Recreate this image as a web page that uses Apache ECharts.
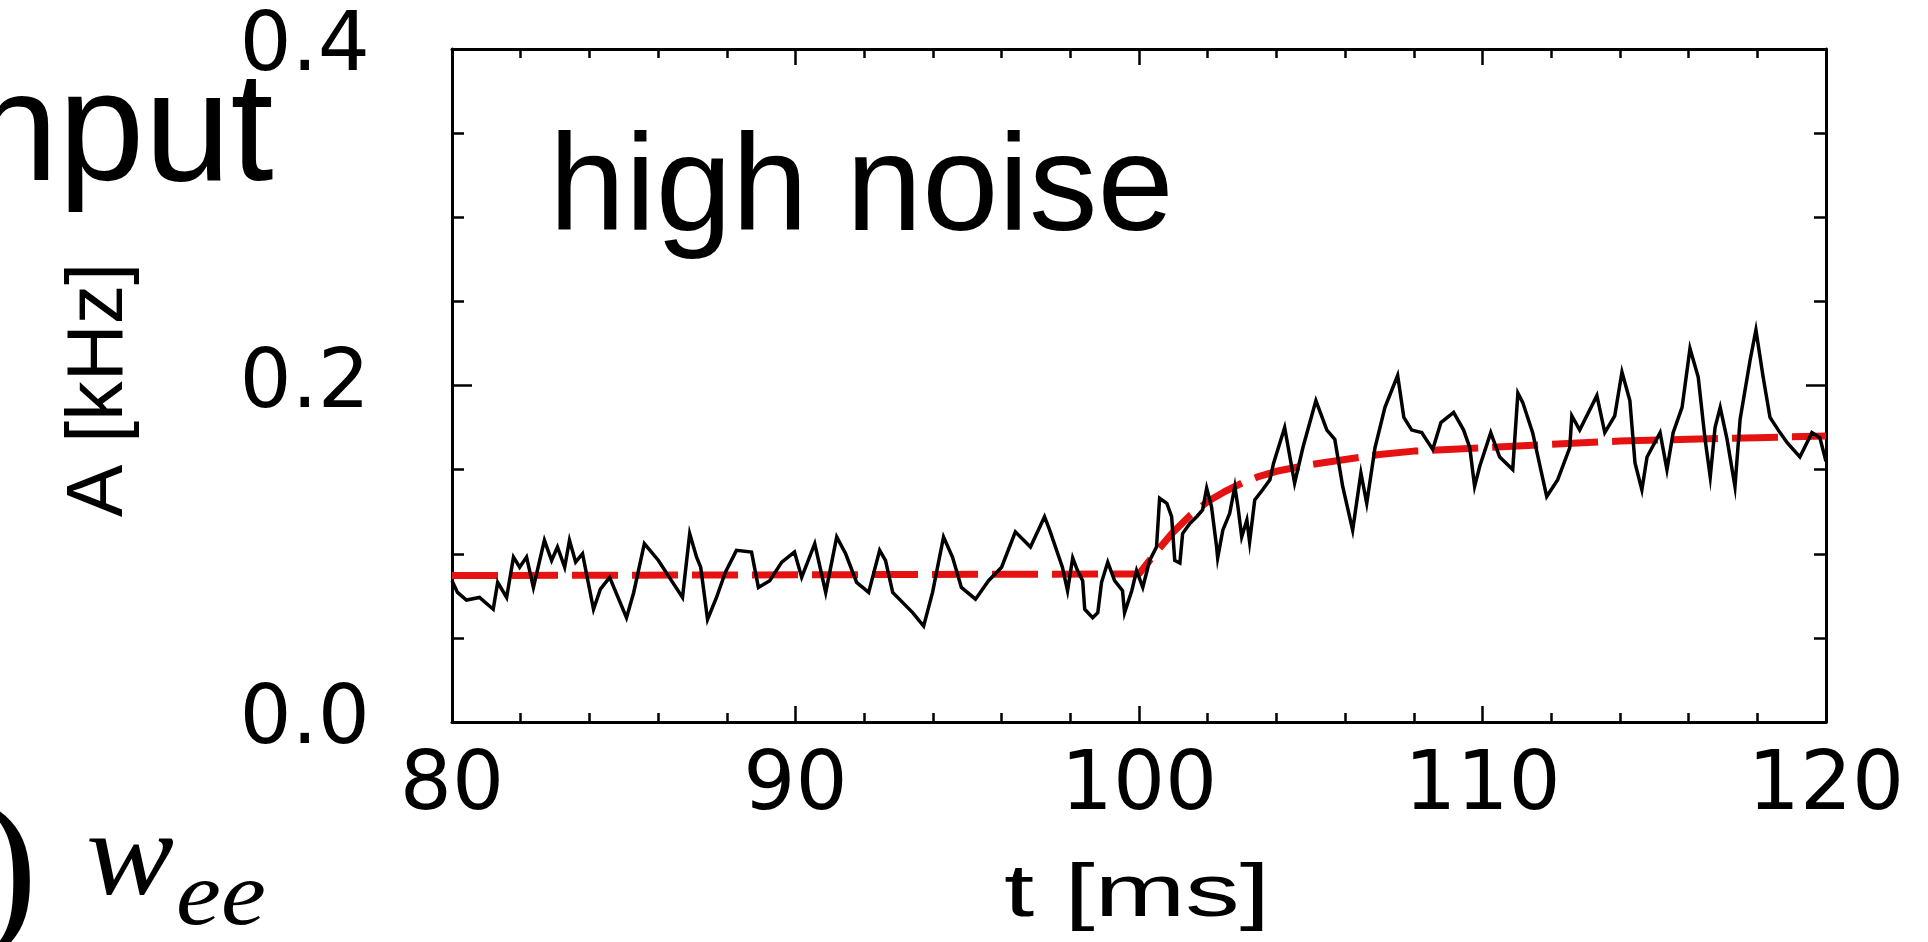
<!DOCTYPE html>
<html><head><meta charset="utf-8">
<script src="https://cdn.jsdelivr.net/npm/echarts@6/dist/echarts.min.js"></script>
<style>html,body{margin:0;padding:0;background:#fff;}#c{width:1928px;height:942px;}</style>
</head><body><div id="c"></div>
<script>
// ---- data ----
const xTickValues = [80, 90, 100, 110, 120];
const yTickLabels = ['0.0', '0.2', '0.4'];
const xName = 't [ms]';
const yName = 'A [kHz]';
const panelLabel = 'high noise';

// measured noisy amplitude trace [t (ms), A (kHz)]
const noisyTrace = [
[80.0,0.084],[80.16,0.077],[80.42,0.0725],[80.8,0.074],[81.2,0.067],[81.33,0.083],[81.59,0.074],[81.79,0.098],
[81.97,0.092],[82.17,0.098],[82.37,0.080],[82.69,0.108],[82.9,0.096],[83.07,0.104],[83.28,0.092],[83.42,0.108],
[83.6,0.095],[83.8,0.100],[84.12,0.067],[84.32,0.079],[84.59,0.086],[85.08,0.062],[85.29,0.077],[85.6,0.106],
[86.01,0.096],[86.39,0.084],[86.71,0.074],[86.92,0.112],[87.12,0.098],[87.24,0.092],[87.44,0.061],[87.7,0.074],
[87.96,0.089],[88.28,0.102],[88.72,0.101],[88.92,0.080],[89.25,0.084],[89.6,0.095],[89.97,0.101],[90.18,0.086],
[90.56,0.106],[90.88,0.077],[91.2,0.110],[91.46,0.100],[91.78,0.083],[92.13,0.077],[92.45,0.102],[92.62,0.096],
[92.83,0.077],[93.41,0.065],[93.73,0.057],[93.99,0.077],[94.31,0.110],[94.57,0.098],[94.83,0.080],[95.24,0.073],
[95.62,0.084],[96.0,0.092],[96.4,0.113],[96.84,0.104],[97.25,0.122],[97.4,0.114],[97.77,0.092],[97.92,0.078],
[98.07,0.0975],[98.21,0.090],[98.36,0.084],[98.42,0.067],[98.65,0.062],[98.8,0.065],[98.91,0.083],[99.09,0.095],
[99.29,0.084],[99.52,0.078],[99.58,0.065],[99.79,0.078],[99.93,0.090],[100.11,0.080],[100.31,0.096],[100.51,0.104],
[100.6,0.133],[100.81,0.130],[100.95,0.122],[101.04,0.096],[101.19,0.0945],[101.27,0.112],[101.48,0.118],[101.68,0.122],
[101.85,0.126],[101.97,0.139],[102.11,0.128],[102.26,0.104],[102.29,0.0975],[102.44,0.114],[102.64,0.124],[102.79,0.140],
[102.88,0.128],[102.99,0.110],[103.14,0.120],[103.22,0.107],[103.37,0.132],[103.6,0.138],[103.81,0.144],[103.92,0.154],
[104.24,0.175],[104.53,0.142],[104.77,0.163],[105.15,0.191],[105.47,0.1735],[105.7,0.168],[105.93,0.140],[106.22,0.114],
[106.46,0.148],[106.63,0.130],[106.87,0.163],[107.16,0.187],[107.53,0.206],[107.71,0.181],[107.94,0.1735],[108.23,0.172],
[108.55,0.162],[108.79,0.178],[109.16,0.184],[109.45,0.1735],[109.63,0.163],[109.77,0.140],[109.92,0.152],[110.24,0.172],
[110.5,0.1575],[110.88,0.150],[111.03,0.1955],[111.17,0.190],[111.46,0.172],[111.87,0.134],[112.19,0.144],[112.54,0.163],
[112.6,0.182],[112.83,0.1735],[113.33,0.194],[113.56,0.172],[113.85,0.182],[114.06,0.208],[114.29,0.191],[114.44,0.154],
[114.64,0.138],[114.79,0.1575],[115.17,0.172],[115.37,0.150],[115.55,0.172],[115.81,0.187],[116.04,0.222],[116.28,0.205],
[116.48,0.168],[116.63,0.1456],[116.77,0.175],[116.92,0.187],[117.12,0.168],[117.35,0.140],[117.5,0.180],[117.79,0.215],
[117.96,0.233],[118.17,0.205],[118.37,0.181],[118.66,0.172],[118.87,0.166],[119.24,0.1575],[119.59,0.172],[119.82,0.169],
[120.0,0.155]
];

// fitted (red dashed) curve [t (ms), A (kHz)]
const fitCurve = [
[80,0.087],[100,0.088],[100.5,0.101],[101,0.113],[101.5,0.123],[102,0.131],[102.5,0.137],[103,0.142],[103.5,0.146],
[104,0.149],[105,0.153],[106,0.156],[107,0.159],[108,0.161],[109,0.162],[110,0.163],[112,0.165],[114,0.167],
[116,0.168],[118,0.169],[120,0.170]
];

// ---- chart ----
const chart = echarts.init(document.getElementById('c'), null, {renderer: 'canvas'});
const black = '#000';
const tickFont = 'DejaVu Sans';
function xAx(pos, showLabel) {
  return {
    type: 'value', min: 80, max: 120, interval: 10, position: pos,
    axisLine: {show: true, onZero: false, lineStyle: {color: black, width: 3}},
    axisTick: {show: true, inside: true, length: 16, lineStyle: {color: black, width: 2.5}},
    minorTick: {show: true, splitNumber: 5, length: 9, lineStyle: {color: black, width: 2.5}},
    splitLine: {show: false}, minorSplitLine: {show: false},
    axisLabel: {show: showLabel, margin: 25, fontFamily: tickFont, fontSize: 82, color: black,
      formatter: v => (xTickValues.indexOf(v) >= 0 ? String(v) : '')}
  };
}
function yAx(pos, showLabel) {
  return {
    type: 'value', min: 0, max: 0.4, interval: 0.2, position: pos,
    axisLine: {show: true, onZero: false, lineStyle: {color: black, width: 3}},
    axisTick: {show: true, inside: true, length: 20, lineStyle: {color: black, width: 2.5}},
    minorTick: {show: true, splitNumber: 4, length: 12, lineStyle: {color: black, width: 2.5}},
    splitLine: {show: false}, minorSplitLine: {show: false},
    axisLabel: {show: showLabel, margin: 82, fontFamily: tickFont, fontSize: 82, color: black,
      formatter: v => yTickLabels[Math.round(v / 0.2)] || ''}
  };
}

chart.setOption({
  animation: false,
  backgroundColor: '#fff',
  grid: {left: 452, top: 49, width: 1374, height: 673, containLabel: false, outerBoundsMode: 'none'},
  xAxis: [xAx('bottom', true), xAx('top', false)],
  yAxis: [yAx('left', true), yAx('right', false)],
  series: [
    {type: 'line', name: 'fit', data: fitCurve, showSymbol: false, smooth: false, z: 2,
     lineStyle: {color: 'rgb(230,18,18)', width: 7, type: [46, 14]}},
    {type: 'line', name: 'A', data: noisyTrace, showSymbol: false, smooth: false, z: 3,
     lineStyle: {color: black, width: 3.5, join: 'miter'}}
  ],
  graphic: [
    {type: 'text', x: 549, y: 192, style: {text: panelLabel, font: '137px "Liberation Sans", Arial, sans-serif',
      fill: black, textAlign: 'left', textVerticalAlign: 'middle'}},
    {type: 'text', x: -28, y: 137, style: {text: 'nput', font: '155px "Liberation Sans", Arial, sans-serif',
      fill: black, textAlign: 'left', textVerticalAlign: 'middle'}},
    {type: 'text', x: 1137, y: 895, scaleX: 1.45, style: {text: xName, font: '75px "Liberation Sans", Arial, sans-serif',
      fill: black, textAlign: 'center', textVerticalAlign: 'middle'}},
    {type: 'text', x: 100, y: 390, rotation: Math.PI / 2, style: {text: yName, font: '79px "Liberation Sans", Arial, sans-serif',
      fill: black, textAlign: 'center', textVerticalAlign: 'middle'}},
    {type: 'text', x: -21, y: 878, style: {text: ')', font: '176px "Liberation Serif", serif',
      fill: black, textAlign: 'left', textVerticalAlign: 'middle'}},
    {type: 'text', x: 86, y: 862, scaleX: 1.1, style: {text: 'w', font: 'italic 120px "Liberation Serif", serif',
      fill: black, textAlign: 'left', textVerticalAlign: 'middle'}},
    {type: 'text', x: 176, y: 900, scaleX: 1.1, style: {text: 'ee', font: 'italic 92px "Liberation Serif", serif',
      fill: black, textAlign: 'left', textVerticalAlign: 'middle'}}
  ]
});
</script>
</body></html>
